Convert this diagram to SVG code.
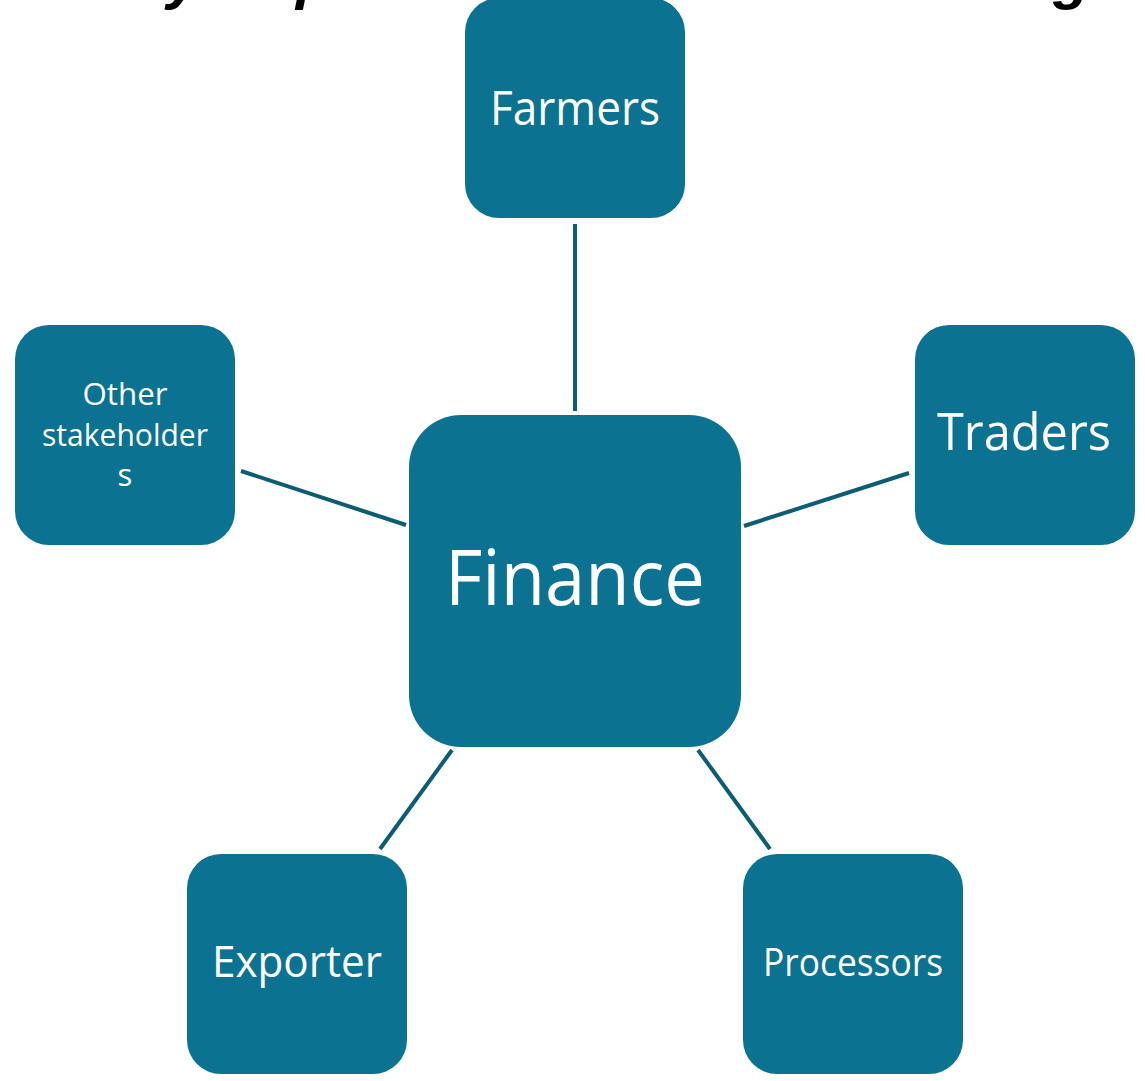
<svg xmlns="http://www.w3.org/2000/svg" width="1145" height="1081" viewBox="0 0 1145 1081">
  <style>
    .box { fill: #0b7391; }
    .lbl { fill: #ffffff; font-family: "Open Sans", "Noto Sans", "Liberation Sans", sans-serif; text-anchor: middle; }
    .conn line { stroke: #0c5c74; stroke-width: 4; stroke-linecap: butt; }
    .title { fill: #000000; font-family: "Liberation Sans", sans-serif; font-weight: bold; font-style: italic; font-size: 60px; }
  </style>
  <rect width="1145" height="1081" fill="#ffffff"/>
  <g id="title-fragments">
    <text class="title" x="167" y="-2">y</text>
    <text class="title" x="296" y="-2">p</text>
    <text class="title" x="1053" y="-2">g</text>
  </g>
  <g id="connectors" class="conn">
    <line x1="575" y1="224" x2="575" y2="411"/>
    <line x1="241" y1="471" x2="406" y2="525"/>
    <line x1="909" y1="473" x2="744" y2="526"/>
    <line x1="452" y1="750" x2="380" y2="849"/>
    <line x1="698" y1="750" x2="770" y2="849"/>
  </g>
  <g id="node-farmers">
    <rect class="box" x="465" y="-2" width="220" height="220" rx="34"/>
    <text class="lbl" x="575" y="125" font-size="48" textLength="170" lengthAdjust="spacingAndGlyphs">Farmers</text>
  </g>
  <g id="node-other">
    <rect class="box" x="15" y="325" width="220" height="220" rx="34"/>
    <text class="lbl" x="125" y="405" font-size="31" textLength="85" lengthAdjust="spacingAndGlyphs">Other</text>
    <text class="lbl" x="125" y="446" font-size="31" textLength="166" lengthAdjust="spacingAndGlyphs">stakeholder</text>
    <text class="lbl" x="125" y="486" font-size="31">s</text>
  </g>
  <g id="node-traders">
    <rect class="box" x="915" y="325" width="220" height="220" rx="34"/>
    <text class="lbl" x="1024" y="450" font-size="52" textLength="174" lengthAdjust="spacingAndGlyphs">Traders</text>
  </g>
  <g id="node-finance">
    <rect class="box" x="409" y="415" width="332" height="332" rx="52"/>
    <text class="lbl" x="575" y="605" font-size="76" textLength="260" lengthAdjust="spacingAndGlyphs">Finance</text>
  </g>
  <g id="node-exporter">
    <rect class="box" x="187" y="854" width="220" height="220" rx="34"/>
    <text class="lbl" x="297" y="977" font-size="44" textLength="170" lengthAdjust="spacingAndGlyphs">Exporter</text>
  </g>
  <g id="node-processors">
    <rect class="box" x="743" y="854" width="220" height="220" rx="34"/>
    <text class="lbl" x="853" y="976" font-size="38" textLength="180" lengthAdjust="spacingAndGlyphs">Processors</text>
  </g>
</svg>
